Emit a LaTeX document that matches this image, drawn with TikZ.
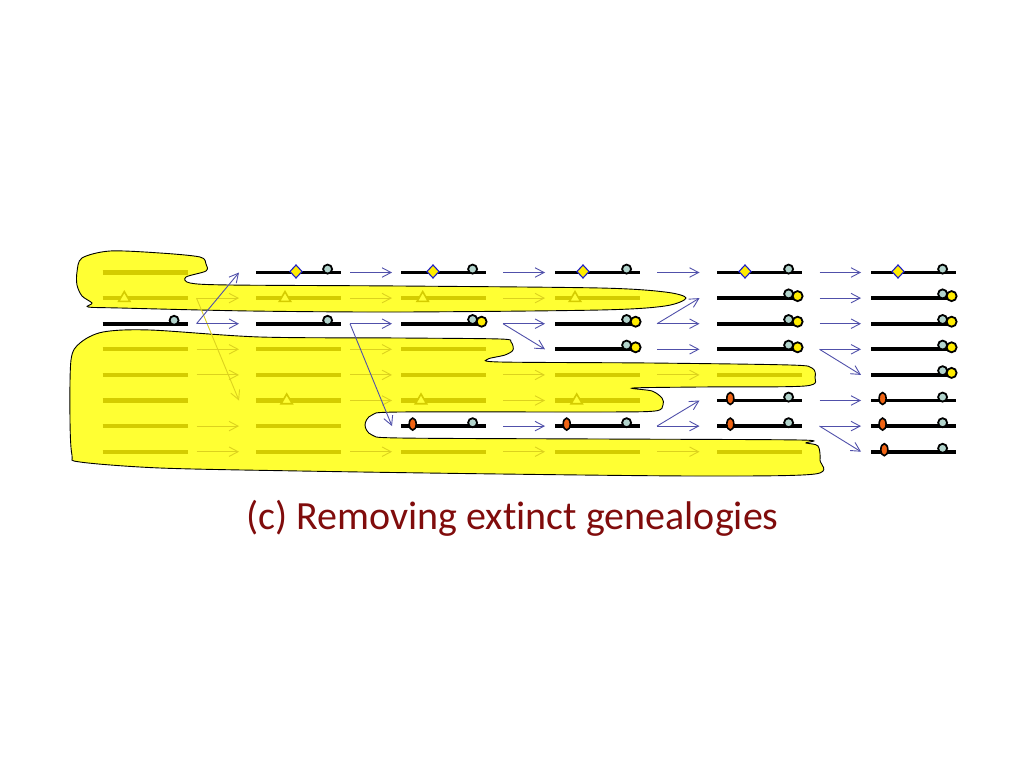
\documentclass[tikz,border=0pt]{standalone}
\usepackage{fontspec}
\setmainfont{Carlito}[Ligatures=NoCommon]
\usepackage{tikz}
\usetikzlibrary{
	shapes.geometric,
	arrows.meta
}
\definecolor{blob}{RGB}{255,255,51}
\definecolor{ghost}{RGB}{212,204,0}
\definecolor{ghostarrow}{RGB}{220,210,30}
\definecolor{arrowblue}{RGB}{80,80,170}
\definecolor{dotteal}{RGB}{178,212,204}
\definecolor{dotyellow}{RGB}{255,236,0}
\definecolor{diablue}{RGB}{30,30,200}
\definecolor{hexorange}{RGB}{240,100,20}
\definecolor{capred}{RGB}{128,12,12}

\begin{document}
\begin{tikzpicture}[x=1pt,y=-1pt,
	cell/.style={rectangle,minimum width=85pt,minimum height=0pt,inner sep=0pt,outer sep=0pt},
	bar/.style={line width=3.8pt,black},
	ghostbar/.style={line width=4.2pt,ghost},
	live/.style={draw=arrowblue,line width=0.9pt,-{Straight Barb[length=9pt,width=9.5pt]}},
	dead/.style={draw=ghostarrow,line width=0.9pt,-{Straight Barb[length=9pt,width=9.5pt]}},
	dot/.style={circle,fill=dotteal,draw=black,line width=1.8pt,minimum size=9pt,inner sep=0pt},
	ydot/.style={dot,fill=dotyellow,minimum size=10pt},
	dia/.style={diamond,fill=dotyellow,draw=diablue,line width=1.1pt,minimum width=12.5pt,minimum height=13.5pt,inner sep=0pt},
	hexa/.style={ellipse,fill=hexorange,draw=black,line width=1.6pt,minimum width=7pt,minimum height=12pt,inner sep=0pt},
	tri/.style={regular polygon,regular polygon sides=3,draw=ghost,fill=blob,line width=1.6pt,minimum size=13pt,inner sep=0pt},
	blobline/.style={fill=blob,draw=black,line width=0.9pt},
	caption/.style={text=capred,font=\fontsize{40}{48}\selectfont,inner sep=0pt}
]
	\useasboundingbox (0,0) rectangle (1024,768);

	% extinct lineages
	\draw[blobline] plot[smooth cycle,tension=0.5] coordinates {
		(77,272) (82,258) (110,251) (160,253) (200,257) (206,264) (206,271)
		(186,277) (190,283) (230,285) (400,286) (600,288) (665,292) (686,298)
		(665,306) (600,310) (400,312) (250,311) (120,308) (88,307) (92,303)
		(82,296) (77,285)};
	\draw[blobline] plot[smooth cycle,tension=0.5] coordinates {
		(103,332) (150,330) (260,337) (400,338) (500,339) (511,342) (513,350)
		(505,355) (488,359) (500,362) (650,363) (790,365) (812,368) (815,377)
		(805,386) (700,387) (633,388) (652,391) (662,398) (663,405) (655,411)
		(600,412) (400,412) (372,415) (365,425) (372,435) (400,438) (600,439)
		(800,440) (806,443) (818,446) (820,460) (815,474) (700,476) (500,474)
		(300,471) (160,468) (80,462) (72,455) (70,420) (71,360) (80,343)};

	% one row per chromosome, one column per generation
	\foreach \i/\x in {0/102.5,1/256,2/401,3/555,4/717,5/871}
		\foreach \r in {0,...,7}
			\node[cell] (c\i\r) at (\x+42.5,272.5+25.6*\r) {};

	\foreach \n in {00,01,03,04,05,06,07,11,13,14,15,16,17,21,23,24,25,27,31,34,35,37,44,47}
		\draw[ghostbar] (c\n.west) -- (c\n.east);
	\foreach \n/\d in {01/21.8,11/29,15/30.7,21/21.7,25/20,31/20,35/21.7}
		\node[tri] (tri\n) at ([xshift=\d pt]c\n.west) {};

	\foreach \r/\s in {1/1,1/5,3/3,4/4,6/6,7/7}
		\draw[dead] ([xshift=9pt]c0\r.east) -- ([xshift=-17pt]c1\s.west);
	\foreach \r/\s in {1/1,3/3,4/4,5/5,7/7}
		\draw[dead] ([xshift=9pt]c1\r.east) -- ([xshift=-9pt]c2\s.west);
	\foreach \r/\s in {1/1,4/4,5/5,7/7}
		\draw[dead] ([xshift=17pt]c2\r.east) -- ([xshift=-10pt]c3\s.west);
	\foreach \r/\s in {4/4,7/7}
		\draw[dead] ([xshift=17pt]c3\r.east) -- ([xshift=-17.5pt]c4\s.west);

	% surviving lineages
	\foreach \n in {02,10,12,20,22,26,30,32,33,36,40,41,42,43,45,46,50,51,52,53,54,55,56,57}
		\draw[bar] (c\n.west) -- (c\n.east);
	\foreach \n/\d in {10/40,20/32,30/28,40/28,50/27}
		\node[dia] (dia\n) at ([shift={(\d,-1)}]c\n.west) {};
	\foreach \n/\d in {26/11.7,36/11.7,45/13.3,46/13.3,55/11.6,56/11.6,57/13.3}
		\node[hexa] (hex\n) at ([shift={(\d,-2)}]c\n.west) {};
	\foreach \n in {02,10,12,20,26,30,36,40,45,46,50,55,56,57}
		\node[dot] (dot\n) at ([shift={(-13.4,-3.4)}]c\n.east) {};
	\foreach \n in {22,32,33,41,42,43,51,52,53,54} {
		\node[ydot] (yel\n) at ([shift={(-4.4,-2)}]c\n.east) {};
		\node[dot] (dot\n) at ([shift={(-13.4,-4.2)}]c\n.east) {};
	}

	\foreach \r/\s in {2/0,2/2}
		\draw[live] ([xshift=9pt]c0\r.east) -- ([xshift=-17pt]c1\s.west);
	\foreach \r/\s in {0/0,2/2,2/6}
		\draw[live] ([xshift=9pt]c1\r.east) -- ([xshift=-9pt]c2\s.west);
	\foreach \r/\s in {0/0,2/2,2/3,6/6}
		\draw[live] ([xshift=17pt]c2\r.east) -- ([xshift=-10pt]c3\s.west);
	\foreach \r/\s in {0/0,2/1,2/2,3/3,6/5,6/6}
		\draw[live] ([xshift=17pt]c3\r.east) -- ([xshift=-17.5pt]c4\s.west);
	\foreach \r/\s in {0/0,1/1,2/2,3/3,3/4,5/5,6/6,6/7}
		\draw[live] ([xshift=17.5pt]c4\r.east) -- ([xshift=-10pt]c5\s.west);

	\node[caption,anchor=base] (cap) at (512.5,529) {(c) Removing extinct genealogies};
\end{tikzpicture}
\end{document}
